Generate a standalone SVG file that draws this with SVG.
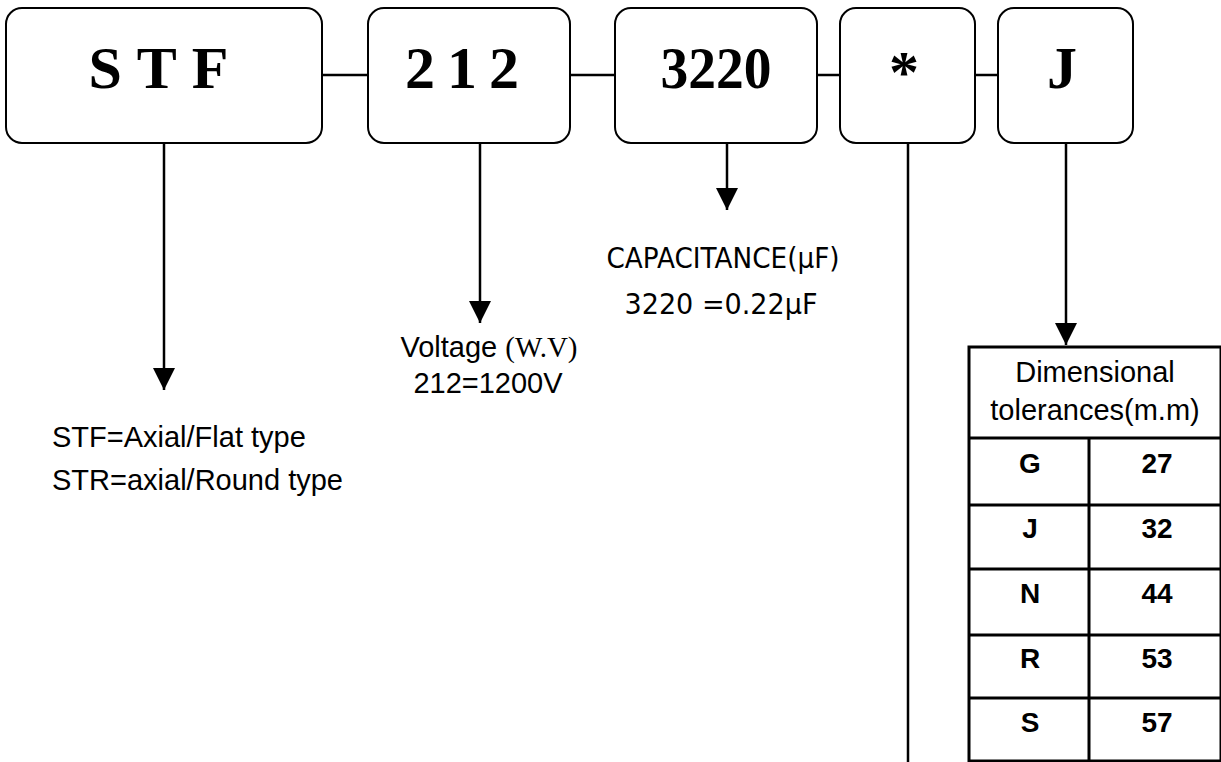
<svg xmlns="http://www.w3.org/2000/svg" width="1221" height="762" viewBox="0 0 1221 762">
<style>
.box{fill:#fff;stroke:#000;stroke-width:2}
.code{font-family:"Liberation Serif","Times New Roman",serif;font-weight:bold;font-size:60px;text-anchor:middle;fill:#000}
.ln{stroke:#000;stroke-width:2.5;fill:none}
.lbl{font-family:"Liberation Sans",Arial,sans-serif;font-size:29px;fill:#000;text-anchor:middle}
.ver{font-family:"DejaVu Sans",Verdana,sans-serif;font-size:29px;fill:#000;text-anchor:middle}
.tb{stroke:#000;stroke-width:3;fill:none}
.cell{font-family:"Liberation Sans",Arial,sans-serif;font-size:28px;font-weight:bold;fill:#000;text-anchor:middle}
</style>
<defs>
<marker id="ah" viewBox="0 0 22 22" refX="22" refY="11" markerWidth="22" markerHeight="22" markerUnits="userSpaceOnUse" orient="auto">
<path d="M0,0 L22,11 L0,22 Z" fill="#000"/>
</marker>
</defs>
<rect width="1221" height="762" fill="#fff"/>
<g id="connectors">
<line class="ln" x1="322" y1="75" x2="368" y2="75"/>
<line class="ln" x1="570" y1="75" x2="615" y2="75"/>
<line class="ln" x1="817" y1="75" x2="840" y2="75"/>
<line class="ln" x1="975" y1="75" x2="998" y2="75"/>
<line class="ln" x1="164" y1="143" x2="164" y2="390" marker-end="url(#ah)"/>
<line class="ln" x1="480" y1="143" x2="480" y2="323" marker-end="url(#ah)"/>
<line class="ln" x1="727" y1="143" x2="727" y2="210" marker-end="url(#ah)"/>
<line class="ln" x1="908" y1="143" x2="908" y2="762"/>
<line class="ln" x1="1066" y1="143" x2="1066" y2="345" marker-end="url(#ah)"/>
</g>
<g id="node-stf">
<rect class="box" x="6" y="8" width="316" height="135" rx="16"/>
<text class="code" x="166" y="88" letter-spacing="15">STF</text>
</g>
<g id="node-212">
<rect class="box" x="368" y="8" width="202" height="135" rx="16"/>
<text class="code" x="468" y="88" letter-spacing="12">212</text>
</g>
<g id="node-3220">
<rect class="box" x="615" y="8" width="202" height="135" rx="16"/>
<text class="code" x="716" y="88" textLength="111" lengthAdjust="spacingAndGlyphs">3220</text>
</g>
<g id="node-star">
<rect class="box" x="840" y="8" width="135" height="135" rx="16"/>
<text class="code" x="904" y="92">*</text>
</g>
<g id="node-j">
<rect class="box" x="998" y="8" width="135" height="135" rx="16"/>
<text class="code" x="1062" y="88">J</text>
</g>
<g id="label-stf">
<text class="lbl" x="52" y="447" style="text-anchor:start">STF=Axial/Flat type</text>
<text class="lbl" x="52" y="490" style="text-anchor:start">STR=axial/Round type</text>
</g>
<g id="label-voltage">
<text class="lbl" x="489" y="357">Voltage <tspan font-family="Liberation Serif,serif">(W.V)</tspan></text>
<text class="lbl" x="488" y="393">212=1200V</text>
</g>
<g id="label-cap">
<text class="ver" x="723" y="268" textLength="233" lengthAdjust="spacingAndGlyphs">CAPACITANCE(μF)</text>
<text class="ver" x="721" y="314" textLength="193" lengthAdjust="spacingAndGlyphs">3220 =0.22μF</text>
</g>
<g id="table">
<rect class="tb" x="969" y="347" width="252" height="414"/>
<line class="tb" x1="969" y1="438" x2="1221" y2="438"/>
<line class="tb" x1="969" y1="505" x2="1221" y2="505"/>
<line class="tb" x1="969" y1="569" x2="1221" y2="569"/>
<line class="tb" x1="969" y1="635" x2="1221" y2="635"/>
<line class="tb" x1="969" y1="698" x2="1221" y2="698"/>
<line class="tb" x1="1089" y1="438" x2="1089" y2="761"/>
<text class="lbl" x="1095" y="382">Dimensional</text>
<text class="lbl" x="1095" y="420">tolerances(m.m)</text>
<text class="cell" x="1030" y="473">G</text><text class="cell" x="1157" y="473">27</text>
<text class="cell" x="1030" y="538">J</text><text class="cell" x="1157" y="538">32</text>
<text class="cell" x="1030" y="603">N</text><text class="cell" x="1157" y="603">44</text>
<text class="cell" x="1030" y="668">R</text><text class="cell" x="1157" y="668">53</text>
<text class="cell" x="1030" y="732">S</text><text class="cell" x="1157" y="732">57</text>
</g>
</svg>
